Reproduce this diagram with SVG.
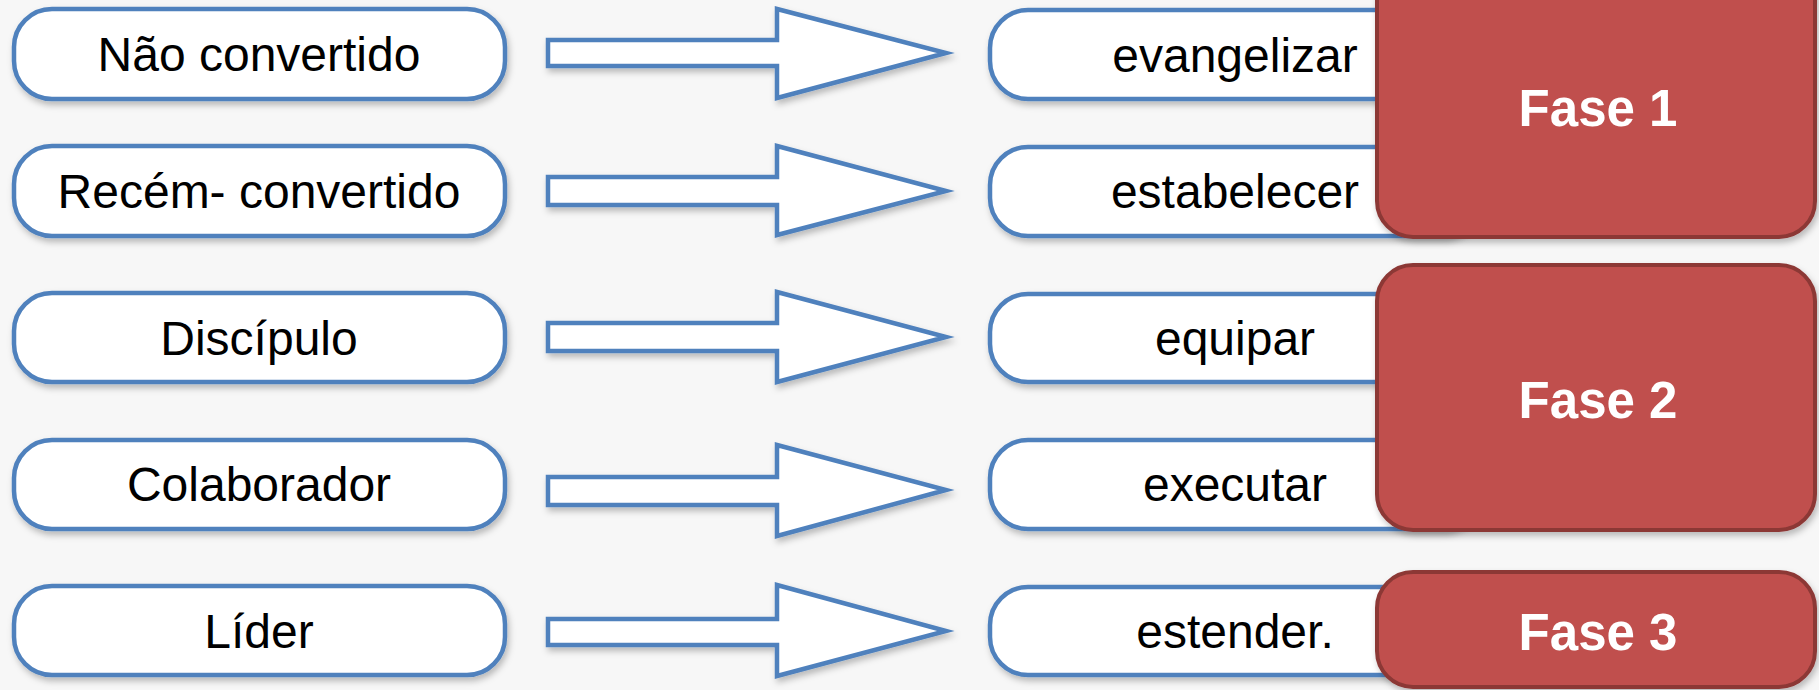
<svg xmlns="http://www.w3.org/2000/svg" width="1819" height="690" viewBox="0 0 1819 690">
<defs>
<filter id="sh" x="-10%" y="-10%" width="120%" height="130%">
<feDropShadow dx="2" dy="4" stdDeviation="3" flood-color="#000" flood-opacity="0.25"/>
</filter>
</defs>
<style>
.box{fill:#fff;stroke:#4F81BD;stroke-width:4.5;filter:url(#sh)}
.arr{fill:#fff;stroke:#4F81BD;stroke-width:4.5;stroke-linejoin:miter;filter:url(#sh)}
.fase{fill:#C0504D;stroke:#8C3836;stroke-width:4;filter:url(#sh)}
.t{font-family:"Liberation Sans",Arial,sans-serif;font-size:48px;fill:#000;text-anchor:middle}
.ft{font-family:"Liberation Sans",Arial,sans-serif;font-size:51px;font-weight:bold;fill:#fff;text-anchor:middle}
</style>
<rect x="0" y="0" width="1819" height="690" fill="#F7F7F7"/>
<g id="left-1"><rect class="box" x="14" y="9" width="491" height="90" rx="38"/><text class="t" x="259" y="71">Não convertido</text></g>
<g id="left-2"><rect class="box" x="14" y="146" width="491" height="90" rx="38"/><text class="t" x="259" y="208">Recém- convertido</text></g>
<g id="left-3"><rect class="box" x="14" y="293" width="491" height="89" rx="38"/><text class="t" x="259" y="355">Discípulo</text></g>
<g id="left-4"><rect class="box" x="14" y="440" width="491" height="89" rx="38"/><text class="t" x="259" y="501">Colaborador</text></g>
<g id="left-5"><rect class="box" x="14" y="586" width="491" height="89" rx="38"/><text class="t" x="259" y="648">Líder</text></g>
<g id="connectors">
<polygon class="arr" points="548,40 777,40 777,9 946,53 777,98 777,66 548,66"/>
<polygon class="arr" points="548,177 777,177 777,146 946,191 777,235 777,205 548,205"/>
<polygon class="arr" points="548,323 777,323 777,292 946,337 777,382 777,351 548,351"/>
<polygon class="arr" points="548,477 777,477 777,445 946,490 777,536 777,505 548,505"/>
<polygon class="arr" points="548,619 777,619 777,585 946,631 777,676 777,645 548,645"/>
</g>
<g id="mid-1"><rect class="box" x="990" y="10" width="490" height="89" rx="38"/><text class="t" x="1235" y="72">evangelizar</text></g>
<g id="mid-2"><rect class="box" x="990" y="147" width="490" height="89" rx="38"/><text class="t" x="1235" y="208">estabelecer</text></g>
<g id="mid-3"><rect class="box" x="990" y="294" width="490" height="88" rx="38"/><text class="t" x="1235" y="355">equipar</text></g>
<g id="mid-4"><rect class="box" x="990" y="440" width="490" height="89" rx="38"/><text class="t" x="1235" y="501">executar</text></g>
<g id="mid-5"><rect class="box" x="990" y="587" width="490" height="88" rx="38"/><text class="t" x="1235" y="648">estender.</text></g>
<g id="fase-1"><rect class="fase" x="1377" y="-40" width="438" height="277" rx="36"/><text class="ft" x="1598" y="126">Fase 1</text></g>
<g id="fase-2"><rect class="fase" x="1377" y="265" width="438" height="265" rx="36"/><text class="ft" x="1598" y="418">Fase 2</text></g>
<g id="fase-3"><rect class="fase" x="1377" y="572" width="438" height="115" rx="36"/><text class="ft" x="1598" y="650">Fase 3</text></g>
</svg>
